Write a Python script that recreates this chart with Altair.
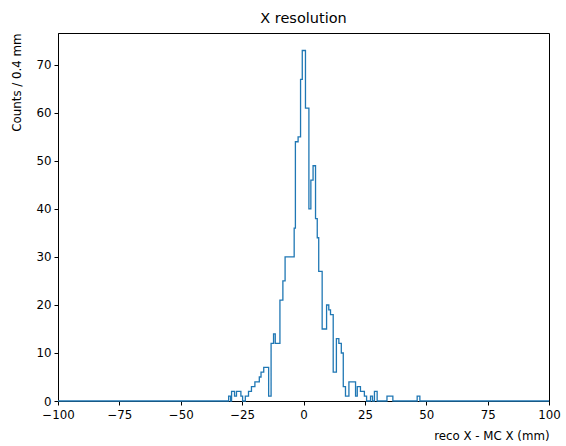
import altair as alt
import pandas as pd

# Step outline of the histogram: start of each flat segment (mm) and its count
seg_start = [-100, -30.5, -29.7, -29.3, -28.1, -27.3, -25.5, -24.8, -23.7, -22.4,
             -21.2, -19.8, -18.0, -17.3, -16.2, -14.2, -13.2, -12.2, -11.5, -9.6,
             -8.4, -7.5, -3.8, -3.3, -2.2, -1.2, -0.5, 0.8, 2.2, 3.0,
             3.9, 4.9, 5.6, 6.2, 7.6, 9.4, 10.3, 11.0, 12.1, 13.4,
             14.4, 15.4, 16.2, 17.1, 18.5, 21.2, 21.9, 23.2, 24.8, 25.7,
             27.3, 28.1, 28.9, 30.0, 34.0, 36.4, 46.3, 47.4, 100]
seg_count = [0, 1, 0, 2, 1, 2, 1, 0, 1, 2,
             3, 4, 5, 6, 7, 1, 12, 14, 12, 21,
             25, 30, 36, 54, 55, 67, 73, 61, 40, 46,
             49, 38, 34, 27, 15, 20, 19, 18, 6, 13,
             12, 10, 3, 1, 4, 1, 3, 2, 1, 0,
             1, 0, 2, 0, 1, 0, 1, 0, 0]

x_ticks = [-100, -75, -50, -25, 0, 25, 50, 75, 100]
y_ticks = [0, 10, 20, 30, 40, 50, 60, 70]

df = pd.DataFrame({"x": seg_start, "count": seg_count})

FONT = "DejaVu Sans"

chart = alt.Chart(df).mark_line(
    interpolate="step-after", color="#1f77b4", strokeWidth=1.3
).encode(
    x=alt.X("x:Q",
            scale=alt.Scale(domain=[-100, 100], nice=False, zero=False),
            axis=alt.Axis(values=x_ticks, title="reco X - MC X (mm)",
                          titleAnchor="end", titleAlign="right",
                          titlePadding=10, format="d", labelPadding=4,
                          labelFlush=False, labelOverlap=False)),
    y=alt.Y("count:Q",
            scale=alt.Scale(domain=[0, 76.65], nice=False),
            axis=alt.Axis(values=y_ticks, title="Counts / 0.4 mm",
                          titleAnchor="end", titleAlign="right",
                          titlePadding=13, format="d", labelPadding=3,
                          labelFlush=False, labelOverlap=False)),
).properties(
    width=491, height=368,
    title=alt.TitleParams("X resolution", fontSize=14.5, font=FONT,
                          fontWeight="normal", color="black", offset=7),
    padding={"left": 58, "top": 33, "right": 17, "bottom": 45},
    autosize=alt.AutoSizeParams(type="none"),
).configure_view(
    stroke="black", strokeWidth=1
).configure_axis(
    domainColor="black", domainWidth=1, tickColor="black", tickSize=4,
    tickWidth=1, labelFont=FONT, labelFontSize=11.8, labelColor="black",
    titleFont=FONT, titleFontSize=11.8, titleFontWeight="normal",
    titleColor="black", grid=False, zindex=1
)

chart.save("out.html", embed_options={"renderer": "svg", "actions": False})
